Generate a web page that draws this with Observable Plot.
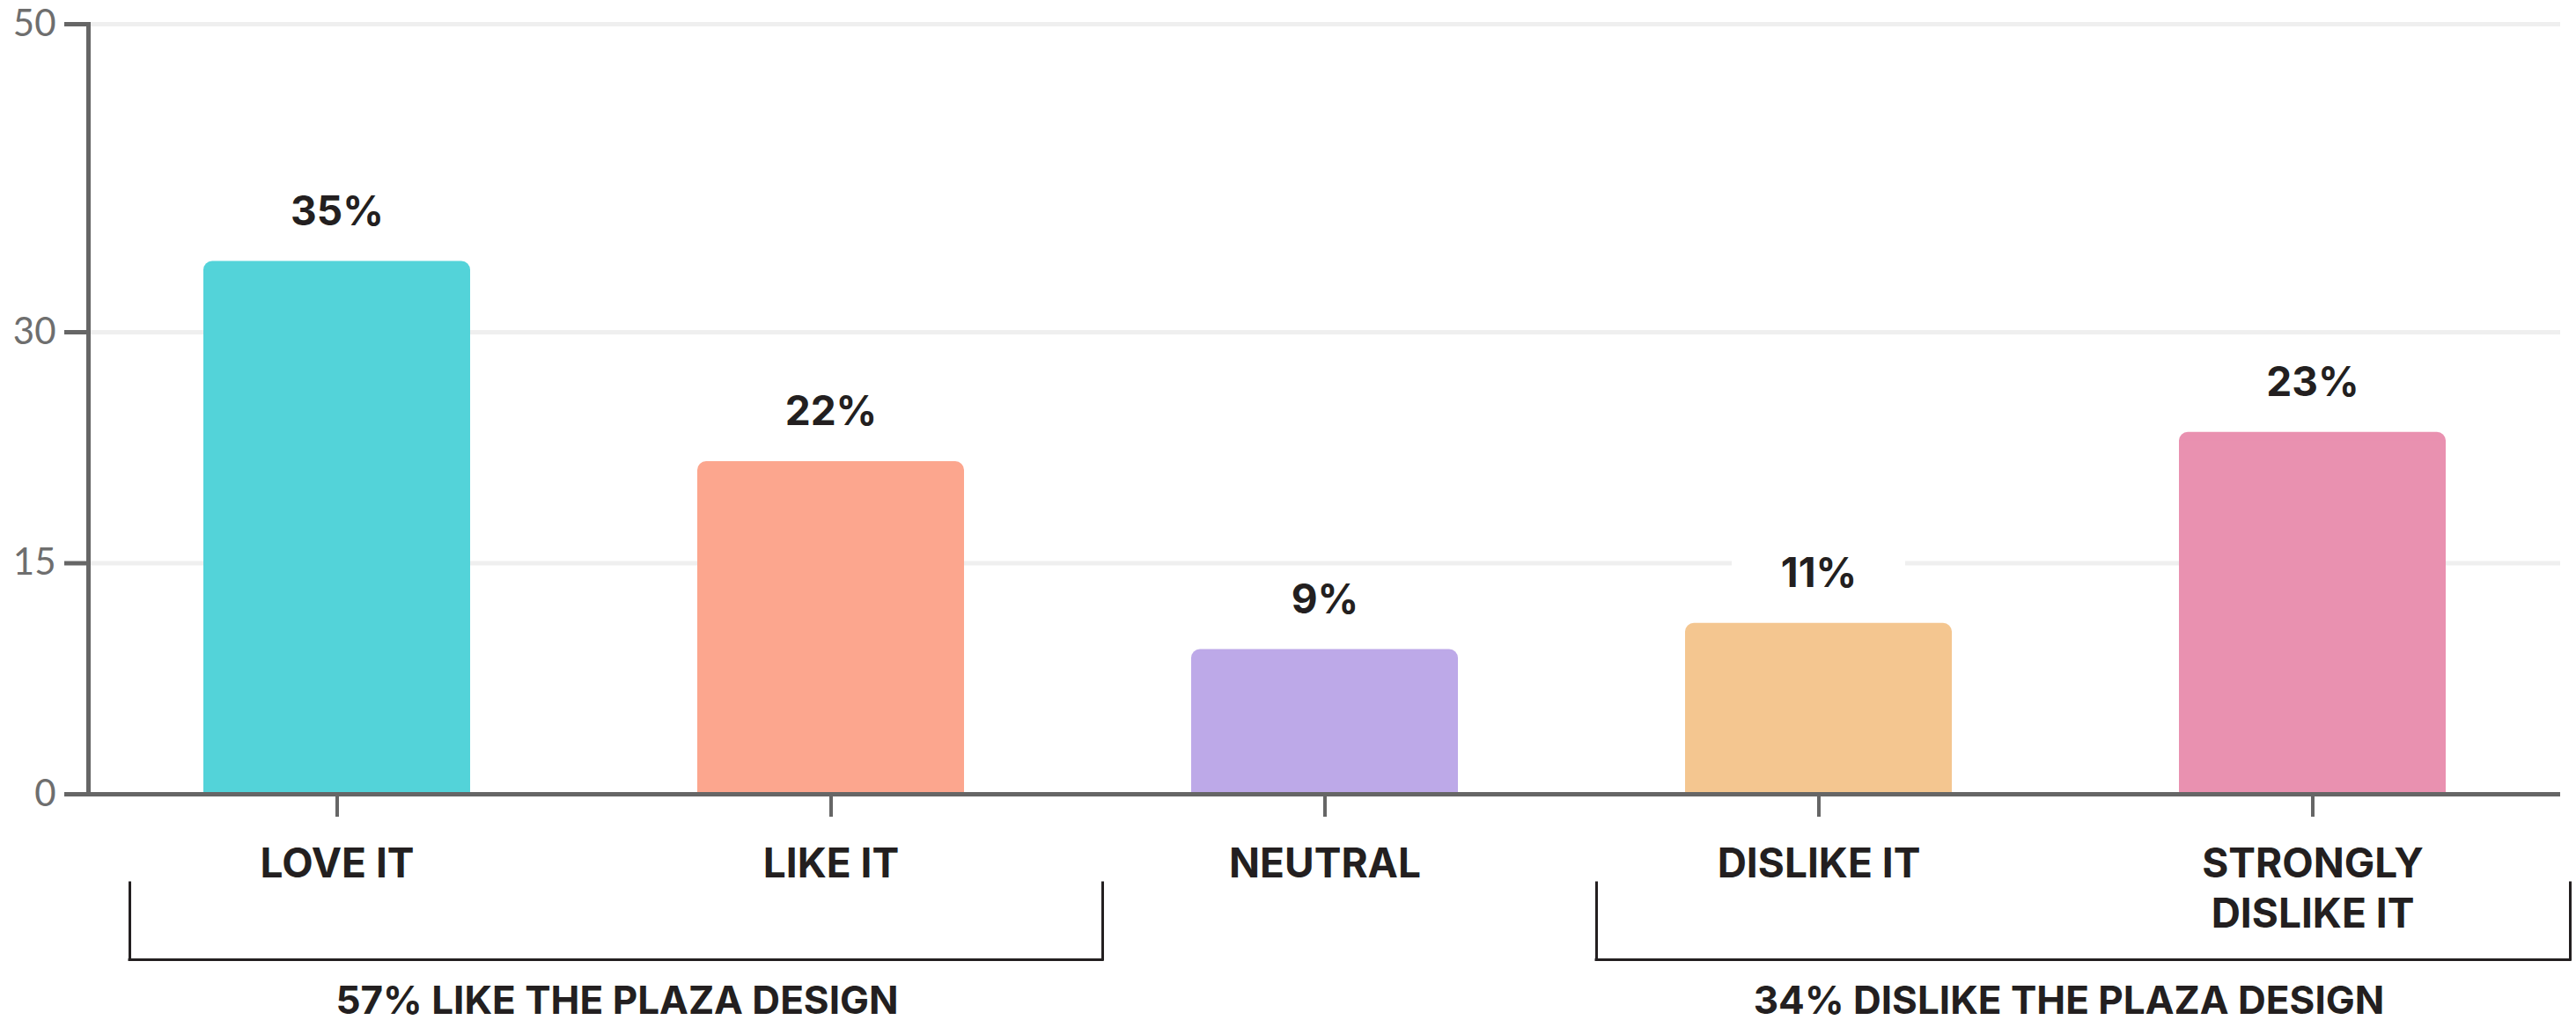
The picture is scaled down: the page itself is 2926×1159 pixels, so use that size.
<!DOCTYPE html>
<html>
<head>
<meta charset="utf-8">
<script src="https://cdn.jsdelivr.net/npm/d3@7"></script>
<script src="https://cdn.jsdelivr.net/npm/@observablehq/plot@0.6"></script>
<style>
  html, body { margin: 0; padding: 0; background: #ffffff; }
  #chart svg { display: block; }
</style>
</head>
<body>
<div id="chart"></div>
<script>
// ---- data ----
const categories = ["LOVE IT", "LIKE IT", "NEUTRAL", "DISLIKE IT", "STRONGLY DISLIKE IT"];
const tickLabels = ["LOVE IT", "LIKE IT", "NEUTRAL", "DISLIKE IT", "STRONGLY\nDISLIKE IT"];
const values = [34.6, 21.6, 9.4, 11.1, 23.5];
const valueLabels = ["35%", "22%", "9%", "11%", "23%"];
const colors = ["#53d3d9", "#fca68e", "#bda9e8", "#f4c690", "#e991b0"];
const yTicks = [0, 15, 30, 50];
const gridValues = [15, 30, 50];
const groupLabels = ["57% LIKE THE PLAZA DESIGN", "34% DISLIKE THE PLAZA DESIGN"];
const groupFrom = ["LOVE IT", "DISLIKE IT"];
const groupTo = ["LIKE IT", "STRONGLY DISLIKE IT"];

// ---- layout ----
const W = 2926, H = 1159;
const ML = 100, MR = 18, MT = 27, MB = 257;
const padInner = 0.4605, padOuter = padInner / 2;
const step = (W - ML - MR) / categories.length;
const halfBand = step * (1 - padInner) / 2;
const bracketLayout = [
  {left: -84, right: -157, labelDx: 318},
  {left: -101, right: -141, labelDx: 284}
];
const bracketTop = 101, bracketBottom = 188;
const ink = "#231f20";
const axisGray = "#666666";
const boldFont = "Inter, 'Noto Sans', sans-serif";

const data = categories.map((c, i) => ({cat: c, value: values[i], label: valueLabels[i], color: colors[i]}));

const groupMarks = groupLabels.flatMap((lab, i) => {
  const L = bracketLayout[i];
  return [
    Plot.ruleY([0], {
      x1: () => groupFrom[i], x2: () => groupTo[i],
      insetLeft: L.left, insetRight: L.right, dy: bracketBottom,
      stroke: ink, strokeWidth: 3, strokeLinecap: "square"
    }),
    Plot.ruleX([groupFrom[i]], {
      y1: () => 0, y2: () => 0, insetTop: bracketTop, insetBottom: -bracketBottom,
      dx: L.left - halfBand, stroke: ink, strokeWidth: 3, strokeLinecap: "square"
    }),
    Plot.ruleX([groupTo[i]], {
      y1: () => 0, y2: () => 0, insetTop: bracketTop, insetBottom: -bracketBottom,
      dx: halfBand - L.right, stroke: ink, strokeWidth: 3, strokeLinecap: "square"
    }),
    Plot.text([lab], {
      x: () => groupFrom[i], y: () => 0, text: d => d,
      dx: L.labelDx, dy: 249, lineAnchor: "bottom",
      fontSize: 44, fontWeight: 700, fontFamily: boldFont, fill: ink
    })
  ];
});

const chart = Plot.plot({
  width: W, height: H,
  marginLeft: ML, marginRight: MR, marginTop: MT, marginBottom: MB,
  style: {fontFamily: boldFont, background: "#ffffff", overflow: "visible"},
  x: {type: "band", domain: categories, paddingInner: padInner, paddingOuter: padOuter, label: null},
  y: {domain: [0, 50], label: null},
  color: {type: "identity"},
  marks: [
    Plot.ruleY(gridValues, {stroke: "#efefef", strokeWidth: 5}),
    Plot.tickY(data, {x: "cat", y: "value", dy: -58, stroke: "#ffffff", strokeWidth: 50, insetLeft: 53, insetRight: 53}),
    Plot.barY(data, {x: "cat", y: "value", fill: "color", rx: 10}),
    Plot.barY(data, {x: "cat", y: "value", fill: "color", insetTop: 10}),
    Plot.ruleY([0], {stroke: axisGray, strokeWidth: 5}),
    Plot.frame({anchor: "left", stroke: axisGray, strokeWidth: 5}),
    Plot.axisY({
      ticks: yTicks, tickSize: 27, tickPadding: 10, stroke: axisGray, strokeWidth: 5,
      fill: "#6e6e6e", fontSize: 42, fontWeight: 400, fontFamily: "Lato, 'Noto Sans', sans-serif",
      label: null
    }),
    Plot.axisX({
      tickSize: 26, tickPadding: 28, stroke: axisGray, strokeWidth: 4,
      fill: ink, fontSize: 46, fontWeight: 700, fontFamily: boldFont, lineHeight: 1.24,
      tickFormat: d => tickLabels[categories.indexOf(d)], label: null
    }),
    Plot.text(data, {
      x: "cat", y: "value", text: "label", dy: -56,
      fontSize: 46, fontWeight: 700, fontFamily: boldFont, fill: ink
    }),
    ...groupMarks
  ]
});
document.getElementById("chart").appendChild(chart);
</script>
</body>
</html>
